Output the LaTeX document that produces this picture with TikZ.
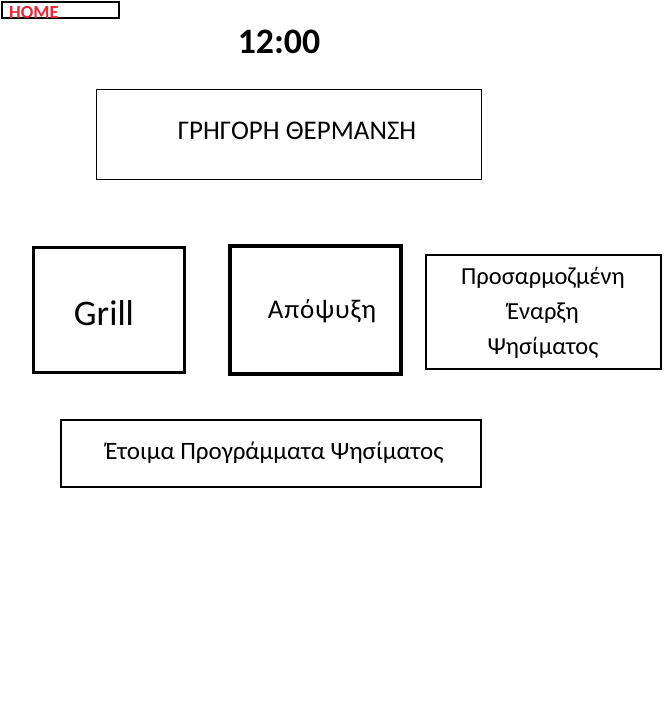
\documentclass[tikz,border=0pt]{standalone}
\usepackage{fontspec}
\setmainfont{Carlito}
\definecolor{homered}{HTML}{EE2436}
\begin{document}
\begin{tikzpicture}[x=1pt,y=-1pt,
  btn/.style={draw=black, rectangle, inner sep=0pt, align=center},
  lbl/.style={inner sep=0pt, align=center}]
\useasboundingbox (0,0) rectangle (668,724);
% HOME
\node[btn, line width=1.3pt, minimum width=117pt, minimum height=16pt] (home) at (60.5,10) {};
\node[lbl, anchor=base west, text=homered, font=\fontsize{18.5}{18.5}\selectfont\bfseries] (hometext) at (9,18) {HOME};
% clock
\node[lbl, font=\fontsize{35.8}{36}\selectfont\bfseries] (clock) at (279,42) {12:00};
% top box
\node[btn, line width=0.9pt, minimum width=385pt, minimum height=90pt] (fast) at (288.5,134) {};
\node[lbl, font=\fontsize{27}{27}\selectfont] (fasttext) at (297,131) {ΓΡΗΓΟΡΗ ΘΕΡΜΑΝΣΗ};
% Grill
\node[btn, line width=3pt, minimum width=151pt, minimum height=125pt] (grill) at (108.5,309.5) {};
\node[lbl, font=\fontsize{36}{36}\selectfont] (grilltext) at (104,313) {Grill};
% Defrost
\node[btn, line width=3.6pt, minimum width=171pt, minimum height=128pt] (defrost) at (315.5,310) {};
\node[lbl, font=\fontsize{27}{27}\selectfont\addfontfeature{LetterSpace=3}] (defrosttext) at (322,311) {Απόψυξη};
% Custom start
\node[btn, line width=2.6pt, minimum width=235pt, minimum height=114pt] (custom) at (543.5,312) {};
\node[lbl, font=\fontsize{24.5}{35}\selectfont] (customtext) at (543,313) {Προσαρμοζμένη\\Έναρξη\\Ψησίματος};
% Ready programs
\node[btn, line width=2.6pt, minimum width=420pt, minimum height=67pt] (ready) at (271,453.5) {};
\node[lbl, font=\fontsize{25}{25}\selectfont] (readytext) at (274.5,453) {Έτοιμα Προγράμματα Ψησίματος};
\end{tikzpicture}
\end{document}
